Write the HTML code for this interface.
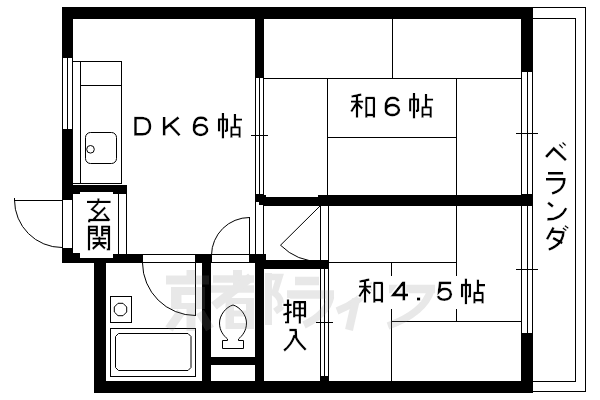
<!DOCTYPE html>
<html>
<head>
<meta charset="utf-8">
<title>Floor plan</title>
<style>
html,body{margin:0;padding:0;background:#fff;}
body{width:600px;height:400px;overflow:hidden;font-family:"Liberation Sans",sans-serif;}
svg{display:block;}
.w{fill:#000;stroke:none;shape-rendering:crispEdges;}
.l{fill:none;stroke:#000;stroke-width:1;shape-rendering:crispEdges;}
.c{fill:none;stroke:#000;stroke-width:1;}
.g{fill:none;stroke:#000;stroke-width:2;stroke-linecap:butt;stroke-linejoin:miter;}
.k{fill:none;stroke:#000;stroke-width:2.6;stroke-linecap:butt;stroke-linejoin:miter;}
.wm{fill:#e9e9e9;stroke:none;}
.t{font-family:"Liberation Sans",sans-serif;font-size:25px;fill:#000;}
</style>
</head>
<body>
<svg width="600" height="400" viewBox="0 0 600 400">
<rect x="0" y="0" width="600" height="400" fill="#fff"/>
<defs>
  <g id="gJo"><path d="M4.9 0V25.6M0 6.4H10M1.1 6.4V18.6M8.9 6.4V18.6M6.8 17.7H8.9M16.9 1V14.3M16.9 6.6H24M12.4 14.3H22.6M13.4 14.3V24.8M21.6 14.3V24.8M12.4 21.6H22.6"/></g>
  <g id="gWa"><path d="M1.4 3.7L11.4 1.5M1 8.6H13.2M7 2V24.8M7 9.6L1.2 18.6M7.4 10.4L12.2 15.6M15.3 4.9H24.9M16.3 4.9V24.8M23.9 4.9V24.8M15.3 22H24.9"/></g>
  <g id="g6" style="stroke-width:2.8"><path d="M13.6 4.4C12.6 2.1 10.6 1.1 7.8 1.1C3.4 1.1 1.1 4.6 1.1 9.6V13.2A6.5 5 0 0 0 14.1 13.2A6.5 5 0 0 0 1.1 13.2"/></g>
  <g id="gD" style="stroke-width:2.8"><path d="M1.2 1.1H8.2C13 1.1 15.7 4.3 15.7 9.2C15.7 14.1 13 17.3 8.2 17.3H1.2Z"/></g>
  <g id="gK" style="stroke-width:2.8"><path d="M1.2 0V18.4M1.6 11.6L15.6 0.4M6.6 7.6L16.6 18.4"/></g>
  <g id="g4" style="stroke-width:2.8"><path d="M11.8 0V19M11.2 1L1.2 13.4H16"/></g>
  <g id="g5" style="stroke-width:2.8"><path d="M14.4 1.1H3.3L2.3 9.8C3.8 8.1 5.8 7.1 8 7.1C11.6 7.1 14 9.3 14 12.5C14 15.8 11.4 17.9 7.7 17.9C4.4 17.9 2.1 16.6 1.1 14.2"/></g>
  <filter id="halo" x="-5%" y="-5%" width="110%" height="110%">
    <feMorphology in="SourceAlpha" operator="dilate" radius="1.1" result="d"/>
    <feFlood flood-color="#ffffff" result="f"/>
    <feComposite in="f" in2="d" operator="in" result="h"/>
    <feMerge><feMergeNode in="h"/><feMergeNode in="SourceGraphic"/></feMerge>
  </filter>
</defs>


<!-- ===== watermark (very light) ===== -->


<!-- ===== thin lines ===== -->
<g class="l">
  <!-- veranda -->
  <path d="M533 7.5H585.5V391.5H533"/>
  <path d="M533 18.5H575.5V381.5H533"/>
  <!-- right windows -->
  <path d="M521.5 72V195M527.5 72V195M532.5 72V195"/>
  <path d="M521.5 205V333M527.5 205V333M532.5 205V333"/>
  <path d="M516 133.5H538M516 269.5H538"/>
  <!-- left window -->
  <path d="M62.5 58V129M67.5 58V129M72.5 58V129"/>
  <!-- kitchen counter -->
  <path d="M73 61.5H121.5V183.5H73"/>
  <path d="M80.5 61V184M80 85.5H122"/>
  <!-- DK / wa6 sliding door -->
  <path d="M255.5 78V195M259.5 78V195M263.5 78V195M251 135.5H268"/>
  <!-- corridor wall lines below -->
  <path d="M255.5 201V255M263.5 205V255"/>
  <!-- tatami wa6 -->
  <path d="M264 78.5H522M392.5 19V79M327.5 78V196M327 137.5H457M456.5 78V196"/>
  <!-- tatami wa4.5 -->
  <path d="M328 262.5H457M456.5 205V321M391.5 262V381M391 321.5H522"/>
  <!-- closet -->
  <path d="M320.5 205V261M328.5 205V261"/>
  <!-- oshiire sliding door -->
  <path d="M320.5 268V377M324.5 268V377M328.5 268V377M316 322.5H333"/>
  <!-- genkan -->
  <path d="M62.5 200V248M72.5 200V248"/>
  <path d="M118.5 193V255M126.5 193V255"/>
  <path d="M14.5 198V201M14 200.5H62"/>
  <!-- bath door opening -->
  <path d="M142 254.5H196M142 262.5H196"/>
  <path d="M195.5 262V316"/>
  <!-- toilet door opening -->
  <path d="M211 254.5H250M211 262.5H250M249.5 217V255"/>
  <!-- washer pan -->
  <rect x="110.5" y="296.5" width="21" height="26"/>
  <!-- bathtub outer -->
  <rect x="110.5" y="328.5" width="85" height="48"/>
</g>

<!-- ===== curves ===== -->
<g class="c">
  <!-- genkan door arc -->
  <path d="M14.5 200A47.5 47.5 0 0 0 62 247.5"/>
  <!-- bath door arc -->
  <path d="M142.5 263A53 53 0 0 0 195.5 315.5"/>
  <!-- toilet door arc -->
  <path d="M211.5 255A38 38 0 0 1 249.5 217.5"/>
  <!-- closet door -->
  <path d="M320.5 205.5L280.5 245.2A56 56 0 0 0 320.5 261.5"/>
  <!-- sink -->
  <rect x="85.5" y="132.5" width="31" height="31" rx="5" ry="5"/>
  <circle cx="90.5" cy="149.3" r="3.8"/>
  <!-- washer circle -->
  <path d="M118 303.3h5l3.7 3.7v5l-3.7 3.7h-5l-3.7-3.7v-5z" stroke-linejoin="round"/>
  <!-- bathtub inner -->
  <path d="M118.5 333.5H188L191 336.5V367.5L188 370.5H118.5L115.5 367.5V336.5Z"/>
  <!-- toilet -->
  <path d="M233 305C226 307 219.5 315 219.5 323C219.5 331 224 336 227.5 339V340.5H222.5V348.5H243.5V340.5H238.5V339C242 336 246.5 331 246.5 323C246.5 315 240 307 233 305Z"/>
</g>

<!-- ===== walls ===== -->
<g class="w">
  <!-- outer top -->
  <rect x="62" y="7" width="471" height="12"/>
  <!-- left wall upper -->
  <rect x="62" y="7" width="11" height="51"/>
  <!-- left wall lower -->
  <rect x="62" y="129" width="11" height="71"/>
  <rect x="62" y="248" width="11" height="15"/>
  <!-- right wall pieces -->
  <rect x="521" y="7" width="12" height="65"/>
  <rect x="521" y="194" width="12" height="12"/>
  <rect x="521" y="333" width="12" height="59"/>
  <!-- bottom wall -->
  <rect x="94" y="381" width="439" height="11.5"/>
  <!-- bath left wall -->
  <rect x="94" y="258" width="12" height="134.5"/>
  <!-- DK/wa6 wall -->
  <rect x="255" y="18" width="9" height="60"/>
  <!-- wa6/wa4.5 wall -->
  <rect x="255" y="194" width="5" height="8"/>
  <rect x="259" y="194" width="5" height="11"/>
  <rect x="263" y="195" width="3" height="11"/>
  <rect x="264" y="197" width="55" height="9"/>
  <rect x="318" y="195" width="204" height="11"/>
  <!-- genkan top bar -->
  <rect x="72" y="185" width="55" height="7"/>
  <rect x="72" y="192" width="8" height="2"/>
  <rect x="113" y="192" width="14" height="2"/>
  <!-- genkan bottom -->
  <rect x="72" y="253" width="8" height="10"/>
  <rect x="62" y="258" width="52" height="5"/>
  <rect x="113" y="254" width="30" height="9"/>
  <!-- bath/toilet door posts -->
  <rect x="195" y="254" width="17" height="9"/>
  <rect x="249" y="254" width="17" height="9"/>
  <!-- bath/toilet wall -->
  <rect x="202" y="262" width="9" height="120"/>
  <!-- toilet/oshiire wall -->
  <rect x="255" y="260" width="9" height="122"/>
  <!-- oshiire top wall -->
  <rect x="255" y="260" width="74" height="9"/>
  <!-- toilet shelf bar -->
  <rect x="211" y="357" width="45" height="8"/>
  <!-- oshiire door bottom block -->
  <rect x="320" y="376" width="9" height="6"/>
</g>

<!-- label mask -->
<rect x="354" y="276" width="136" height="33" fill="#fff"/>

<!-- ===== watermark overlay ===== -->
<g id="wm" opacity="0.19" fill="none" stroke="#878787" stroke-width="9" stroke-linecap="butt" stroke-linejoin="miter">
  <!-- kyo -->
  <path d="M191 270V277M166 280H209M191 309V331M181 312L169 329M200 312L210 329"/>
  <path d="M171 287H205V309H171ZM181.5 295V303H195V295Z" fill="#878787" fill-rule="evenodd" stroke="none"/>
  <!-- to : sha -->
  <path d="M213 279H254M211 289H254" stroke-width="7.5"/>
  <path d="M237.5 270V290" stroke-width="9"/>
  <path d="M251 277L214 306"/>
  <path d="M225.5 298H254V329H225.5ZM234 304V310.5H246V304ZM234 316.5V323H246V316.5Z" fill="#878787" fill-rule="evenodd" stroke="none"/>
  <!-- to : ozato -->
  <path d="M268.5 273V325" stroke-width="7"/>
  <path d="M266 277H279.5L274.5 293Q282.5 298.5 280.5 307.5L275 311.5" stroke-width="6.5"/>
  <!-- ra -->
  <path d="M295 281H319M287 294.5H334" stroke-width="8.5"/>
  <path d="M330.5 297Q327 314 304 325" stroke-width="7.5"/>
  <!-- i -->
  <path d="M374 284Q360 302 337 311" stroke-width="7.5"/>
  <path d="M356 299L349 330" stroke-width="8"/>
  <!-- fu -->
  <path d="M389 289H435" stroke-width="8.5"/>
  <path d="M431 290Q424 313 388 326" stroke-width="7.5"/>
</g>

<!-- ===== text ===== -->
<g id="txt" filter="url(#halo)">
  <g class="g" style="stroke-width:2.35">
    <!-- DK6jo -->
    <use href="#gD" x="134.3" y="117"/>
    <use href="#gK" x="163" y="117"/>
    <use href="#g6" x="193" y="116.6"/>
    <use href="#gJo" x="218" y="113"/>
    <!-- wa6jo -->
    <use href="#gWa" x="350" y="93"/>
    <use href="#g6" x="384.8" y="96.8"/>
    <use href="#gJo" x="409.1" y="93"/>
    <!-- wa4.5jo -->
    <use href="#gWa" x="358" y="278"/>
    <use href="#g4" x="392" y="281.6"/>
    <rect x="417" y="297.4" width="3.2" height="3.2" fill="#000" stroke="none"/>
    <use href="#g5" x="436.8" y="281.8"/>
    <use href="#gJo" x="461" y="278.6"/>
    <!-- genkan -->
    <path d="M98.4 198.2V202M87 201.8H110.8M98.2 203L92 209.2L99.4 214.2M105.2 207.4L93.6 219.4M88.4 220H108.4M89.2 220V222.4M104 213.6L109.6 220.8"/>
    <path d="M89 226V250.4M88 226.6H97.8M89 230H97M89 233.4H97M96.8 226V236.4M102.2 226V236.4M101.2 226.6H110M102 230H109M102 233.4H109M109 226V250.4M106.6 249.4H109M92.4 238.6H106M92.4 243.2H106.8M99.4 236.4V243.2M99.2 243.2L92.6 249M100 243.8L105 248.6"/>
    <!-- oshiire -->
    <path d="M288 299.2V323.4M285 322.4H288M283.2 304.8H291.8M283.2 314.8L291.8 311.6M293.2 302.2H306M294.2 302.2V317.4M305 302.2V317.4M293.2 315.4H306M294.2 308.4H305M299.8 302.2V323.8"/>
  </g>
  <g class="k" style="stroke-width:2.6">
    <path d="M289.2 330H296.6M295.6 329.4L296 337.4Q298 342 305.8 349.8M294.6 335Q292 344.4 284 350.6"/>
  </g>
  <g class="k">
    <!-- be -->
    <path d="M546 157L553.8 148.6L566 160.2" style="stroke-width:2.9"/>
    <path d="M559.2 144.4L562.8 148.2M562.4 142.4L565.8 145.6" style="stroke-width:1.6"/>
    <!-- ra -->
    <path d="M548 173.4H563.2M546 179.4H565.8M564.2 180.2Q564 190 552 193.4"/>
    <!-- n -->
    <path d="M548 202.6L553 206.6" style="stroke-width:2.9"/>
    <path d="M547.2 219.4Q561 219.6 566.2 208"/>
    <!-- da -->
    <path d="M553.6 227.4L547 239.4M552 231.4L563.4 232.4Q562.6 244.6 548.6 249.6M553 238L562.4 243.2"/>
    <path d="M562.8 228L566.4 230.6M564.8 225.6L568.4 228.4" style="stroke-width:1.6"/>
  </g>
</g>
</svg>
</body>
</html>
